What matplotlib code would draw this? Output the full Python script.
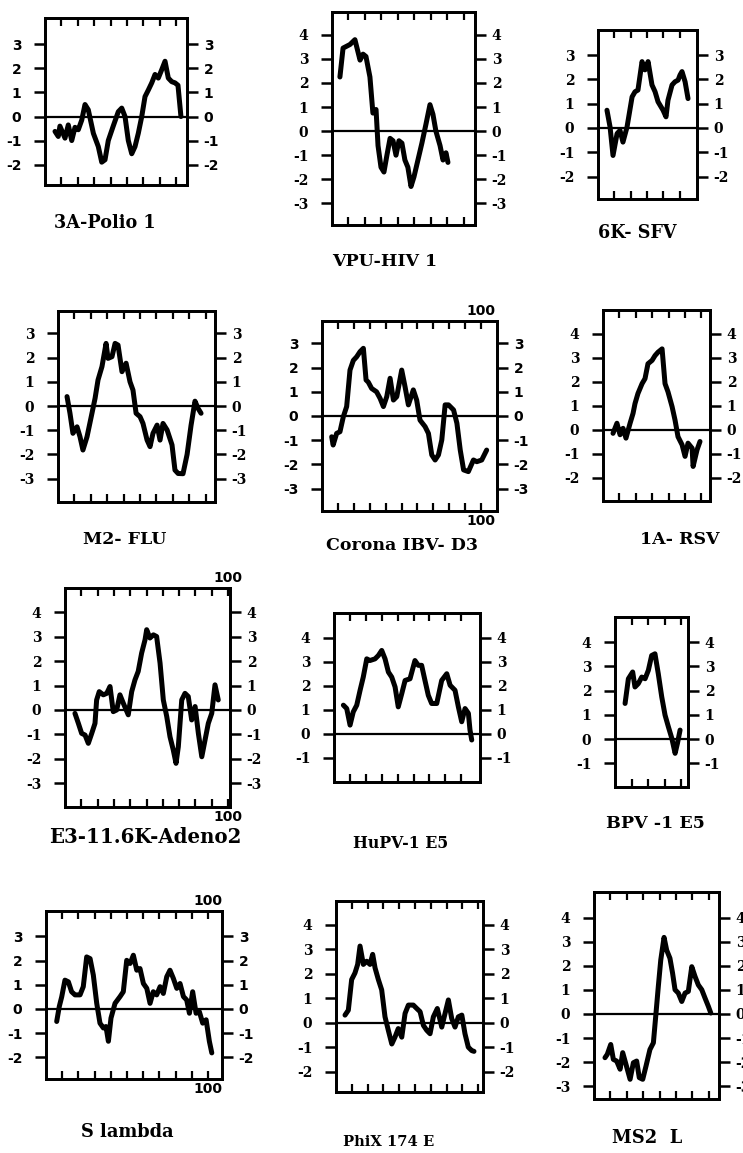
import matplotlib.pyplot as plt

plt.rcParams['axes.unicode_minus'] = False

W, H = 743, 1153

names = ['3A-Polio 1', 'VPU-HIV 1', '6K- SFV', 'M2- FLU', 'Corona IBV- D3', '1A- RSV',
         'E3-11.6K-Adeno2', 'HuPV-1 E5', 'BPV -1 E5', 'S lambda', 'PhiX 174 E', 'MS2  L']

# residue position / hydropathy value
polio_r = [6.1, 8.1, 9.1, 12.2, 14.2, 16.3, 18.3, 20.3, 22.4, 24.4, 26.4, 29.5, 32.5, 34.6, 36.6,
           38.6, 41.6, 44.7, 46.8, 48.8, 50.8, 52.9, 54.9, 56.9, 59.0, 61.0, 63.0, 65.1, 67.1,
           69.1, 71.2, 73.2, 75.2, 77.3, 79.3, 81.1, 82.9]
polio_v = [-0.62, -0.83, -0.4, -0.9, -0.35, -1.0, -0.45, -0.55, -0.15, 0.5, 0.28, -0.7, -1.25,
           -1.9, -1.8, -1.0, -0.4, 0.2, 0.35, 0.0, -1.0, -1.55, -1.25, -0.7, 0.0, 0.83, 1.1, 1.4,
           1.75, 1.6, 1.95, 2.3, 1.6, 1.45, 1.4, 1.3, 0.0]

vpu_r = [4.8, 6.7, 10.9, 13.9, 17.0, 18.8, 20.6, 23.0, 24.8, 26.7, 27.9, 29.7, 31.5, 33.3, 35.2,
         37.0, 38.8, 40.6, 42.4, 44.2, 46.0, 47.9, 49.7, 52.1, 54.5, 57.0, 59.4, 61.2, 63.0,
         65.5, 67.3, 69.1, 70.3]
vpu_v = [2.25, 3.45, 3.6, 3.8, 2.95, 3.2, 3.1, 2.25, 0.75, 0.9, -0.6, -1.5, -1.7, -1.0, -0.3,
         -0.4, -1.0, -0.4, -0.5, -1.2, -1.5, -2.3, -1.9, -1.2, -0.5, 0.3, 1.1, 0.7, 0.0, -0.6,
         -1.2, -0.9, -1.3]

sfv_r = [5.5, 7.4, 9.2, 11.7, 13.5, 15.3, 17.8, 20.9, 22.7, 24.5, 27.0, 28.8, 30.7, 33.1, 35.0,
         36.8, 39.9, 41.7, 42.9, 45.4, 47.2, 49.1, 50.3, 51.5, 53.4, 55.2]
sfv_v = [0.73, 0.04, -1.13, -0.23, -0.1, -0.58, 0.04, 1.28, 1.49, 1.56, 2.73, 2.39, 2.73, 1.77,
         1.49, 1.08, 0.73, 0.46, 1.14, 1.77, 1.9, 1.97, 2.18, 2.32, 1.9, 1.21]

flu_r = [5.5, 7.3, 9.1, 11.6, 13.4, 15.2, 17.7, 20.7, 22.6, 24.4, 26.8, 29.3, 30.5, 32.9, 34.8,
         36.6, 39.0, 41.5, 43.9, 45.7, 47.6, 50.0, 51.8, 54.3, 56.1, 57.9, 60.4, 62.2, 64.0,
         66.5, 69.5, 71.3, 73.2, 76.2, 78.7, 81.1, 83.5, 85.4, 87.2]
flu_v = [0.39, -0.3, -1.13, -0.86, -1.27, -1.82, -1.27, -0.3, 0.32, 1.08, 1.63, 2.59, 1.97, 2.04,
         2.59, 2.52, 1.42, 1.77, 1.0, 0.66, -0.3, -0.44, -0.72, -1.41, -1.68, -1.13, -0.79,
         -1.41, -0.72, -0.99, -1.61, -2.65, -2.79, -2.8, -2.0, -0.8, 0.2, -0.1, -0.3]

ibv_r = [6.1, 7.0, 9.2, 11.3, 13.4, 15.5, 17.6, 19.7, 21.8, 23.9, 26.0, 27.7, 29.1, 31.2, 34.3,
         36.5, 38.6, 40.7, 42.8, 44.9, 47.0, 50.1, 52.2, 54.3, 57.4, 59.5, 61.6, 64.8, 66.9,
         69.0, 71.1, 73.2, 75.3, 77.4, 79.5, 82.7, 84.8, 86.9, 89.0, 92.0, 95.2, 97.3, 100.4,
         103.5]
ibv_v = [-0.86, -1.2, -0.72, -0.65, -0.03, 0.39, 1.9, 2.3, 2.45, 2.66, 2.8, 1.49, 1.4, 1.14, 1.0,
         0.73, 0.39, 0.8, 1.56, 0.66, 0.8, 1.9, 1.21, 0.46, 1.08, 0.66, -0.17, -0.44, -0.72,
         -1.61, -1.82, -1.61, -0.99, 0.46, 0.46, 0.25, -0.3, -1.41, -2.23, -2.3, -1.82, -1.89,
         -1.82, -1.41]

rsv_r = [6.1, 8.5, 10.4, 12.2, 14.0, 16.5, 18.3, 19.5, 21.3, 23.8, 25.6, 27.4, 29.9, 31.7, 33.5,
         36.0, 37.8, 39.6, 42.1, 43.9, 45.7, 48.2, 50.0, 51.8, 54.3, 54.9, 57.3, 59.1]
rsv_v = [-0.14, 0.28, -0.2, 0.07, -0.34, 0.28, 0.69, 1.1, 1.52, 1.93, 2.14, 2.76, 2.9, 3.1, 3.24,
         3.38, 1.93, 1.59, 0.97, 0.41, -0.28, -0.62, -1.1, -0.55, -0.76, -1.52, -0.83, -0.48]

adeno_r = [6.1, 8.2, 10.2, 12.3, 14.3, 16.4, 18.4, 19.4, 21.0, 23.5, 25.6, 27.6, 29.6, 31.7,
           33.7, 35.8, 38.8, 40.9, 42.9, 44.9, 47.0, 49.1, 50.1, 52.1, 54.2, 56.2, 58.3, 60.3,
           62.4, 64.4, 66.4, 68.1, 69.5, 71.6, 73.6, 75.6, 77.7, 79.8, 81.8, 83.9, 85.9, 87.9,
           90.0, 92.0, 94.0]
adeno_v = [-0.14, -0.55, -0.96, -1.03, -1.37, -0.96, -0.55, 0.41, 0.75, 0.62, 0.68, 0.96, -0.07,
           0.0, 0.62, 0.27, -0.2, 0.75, 1.23, 1.58, 2.33, 2.88, 3.29, 2.95, 3.08, 3.01, 1.92,
           0.41, -0.27, -1.1, -1.64, -2.19, -1.51, 0.41, 0.68, 0.55, -0.41, 0.14, -0.96, -1.92,
           -1.23, -0.55, -0.14, 1.03, 0.41]

hupv_r = [5.9, 8.0, 10.1, 12.1, 14.3, 16.4, 18.4, 20.6, 22.6, 25.8, 27.9, 30.0, 32.1, 34.2, 36.3,
          38.4, 40.4, 42.6, 44.7, 47.8, 50.9, 53.0, 55.1, 57.2, 59.3, 61.4, 64.6, 67.7, 70.9,
          73.0, 76.1, 78.2, 80.3, 82.4, 84.5, 85.5, 86.6]
hupv_v = [1.2, 1.06, 0.37, 0.92, 1.2, 1.82, 2.37, 3.13, 3.06, 3.13, 3.27, 3.48, 3.13, 2.58, 2.37,
          1.96, 1.13, 1.68, 2.23, 2.3, 3.06, 2.86, 2.86, 2.23, 1.61, 1.27, 1.27, 2.23, 2.51, 2.03,
          1.82, 1.13, 0.51, 1.06, 0.86, 0.17, -0.25]

bpv_r = [6.1, 8.1, 10.7, 12.1, 14.1, 16.2, 18.2, 20.2, 22.2, 24.2, 26.2, 28.3, 30.3, 32.3, 34.4,
         36.4, 37.8, 39.4]
bpv_v = [1.47, 2.49, 2.77, 2.15, 2.29, 2.56, 2.49, 2.84, 3.45, 3.52, 2.7, 1.74, 0.99, 0.51, 0.03,
         -0.59, -0.18, 0.37]

slam_r = [6.6, 8.2, 9.7, 11.7, 13.8, 15.8, 17.9, 21.0, 23.0, 25.1, 27.2, 29.2, 31.3, 33.3, 35.4,
          37.0, 38.5, 40.1, 42.6, 45.7, 47.7, 49.8, 51.9, 53.9, 56.0, 58.0, 60.1, 62.2, 64.2,
          66.2, 68.3, 70.4, 72.4, 74.5, 76.5, 78.6, 80.7, 82.7, 84.8, 86.8, 88.5, 90.5, 92.6,
          94.6, 96.7, 98.8, 100.8, 102.3]
slam_v = [-0.52, 0.1, 0.5, 1.19, 1.12, 0.71, 0.58, 0.58, 0.92, 2.15, 2.08, 1.4, 0.23, -0.59,
          -0.79, -0.73, -1.34, -0.38, 0.23, 0.51, 0.71, 2.01, 1.88, 2.22, 1.6, 1.67, 1.05, 0.85,
          0.23, 0.71, 0.58, 0.92, 0.64, 1.33, 1.6, 1.26, 0.85, 1.05, 0.51, 0.37, -0.18, 0.71,
          -0.18, -0.11, -0.59, -0.45, -1.34, -1.82]

phix_r = [5.7, 7.8, 9.9, 12.0, 13.7, 15.2, 17.3, 19.4, 21.5, 23.2, 24.7, 26.8, 28.9, 31.0, 33.1,
          35.3, 37.3, 39.4, 41.6, 43.7, 45.8, 48.9, 51.1, 53.2, 55.3, 57.4, 59.5, 61.6, 64.1,
          66.9, 69.0, 71.1, 73.2, 75.3, 77.4, 79.6, 81.6, 83.7, 85.9, 87.3]
phix_v = [0.32, 0.52, 1.77, 2.04, 2.39, 3.14, 2.39, 2.52, 2.39, 2.8, 2.25, 1.77, 1.35, 0.25, -0.3,
          -0.86, -0.58, -0.23, -0.58, 0.39, 0.73, 0.73, 0.59, 0.46, -0.1, -0.3, -0.44, 0.25, 0.59,
          -0.17, 0.39, 0.94, 0.18, -0.17, 0.25, 0.32, -0.44, -0.99, -1.13, -1.16]

ms2_r = [6.7, 8.1, 10.2, 11.8, 13.8, 15.9, 17.5, 19.5, 22.0, 24.0, 26.0, 27.6, 29.7, 31.7, 34.1,
         36.2, 37.8, 39.2, 40.7, 42.7, 44.3, 46.3, 47.9, 49.4, 51.4, 53.5, 55.5, 57.5, 59.6,
         61.6, 63.6, 65.7, 67.7, 69.7, 71.2]
ms2_v = [-1.82, -1.68, -1.27, -1.89, -1.96, -2.3, -1.61, -2.1, -2.72, -2.03, -1.96, -2.65, -2.72,
         -2.17, -1.48, -1.2, 0.04, 1.14, 2.25, 3.19, 2.66, 2.32, 1.7, 1.01, 0.87, 0.52, 0.87,
         0.94, 1.97, 1.56, 1.21, 1.01, 0.66, 0.32, 0.04]

# labelled hydropathy ticks of each panel (lowest, highest)
ytick_span = [(-2, 3), (-3, 4), (-2, 3), (-3, 3), (-3, 3), (-2, 4),
              (-3, 4), (-1, 4), (-1, 4), (-2, 3), (-2, 4), (-3, 4)]

series = [(polio_r, polio_v), (vpu_r, vpu_v), (sfv_r, sfv_v), (flu_r, flu_v), (ibv_r, ibv_v),
          (rsv_r, rsv_v), (adeno_r, adeno_v), (hupv_r, hupv_v), (bpv_r, bpv_v),
          (slam_r, slam_v), (phix_r, phix_v), (ms2_r, ms2_v)]

# panel boxes in pixels (left, top, right, bottom), axis ranges, title spots
boxes = [(45, 18, 187, 185), (332, 12, 475, 225), (598, 30, 697, 199),
         (58, 311, 215, 502), (322, 321, 497, 511), (603, 310, 710, 501),
         (65, 588, 230, 807), (334, 613, 480, 782), (615, 617, 688, 787),
         (46, 911, 222, 1079), (336, 901, 483, 1092), (594, 892, 719, 1099)]
xmaxs = [86.6, 86.7, 60.7, 95.7, 110, 65.2, 101.2, 91.8, 44.2, 108.6, 93, 76.2]
ylims = [(-2.85, 4.1), (-3.9, 4.95), (-2.92, 4.03), (-3.97, 3.93), (-3.93, 3.93), (-2.96, 5.0),
         (-3.98, 5.0), (-2.0, 5.04), (-1.98, 5.04), (-2.9, 4.05), (-2.82, 4.98), (-3.54, 5.08)]
mark100 = [False, False, False, False, True, False, True, False, False, True, False, False]
sans = [True, False, False, False, True, False, False, False, False, True, False, False]
title_xy = [(105, 223), (385, 262), (637, 233), (125, 540), (402, 545), (680, 540),
            (145, 837), (401, 843), (655, 823), (127, 1132), (389, 1142), (647, 1138)]
title_size = [12.7, 12.5, 12.7, 12.5, 12.5, 12.5, 14.2, 11.3, 12.6, 12.8, 10.6, 12.9]

fig = plt.figure(figsize=(W / 100, H / 100), dpi=100)

for i, (r, v) in enumerate(series):
    l, t, rt, b = boxes[i]
    ax = fig.add_axes([l / W, 1 - b / H, (rt - l) / W, (b - t) / H])
    ax.plot(r, v, color='black', lw=3.6, solid_joinstyle='round', solid_capstyle='round')
    ax.axhline(0, color='black', lw=1.6)
    ax.set_xlim(0, xmaxs[i])
    lo, hi = ylims[i]
    ax.set_ylim(lo, hi)
    yt = list(range(ytick_span[i][0], ytick_span[i][1] + 1))
    fam = 'DejaVu Sans' if sans[i] else 'DejaVu Serif'

    if mark100[i]:
        xt = list(range(10, 101, 10))
        ax.set_xticks(xt)
        ax.set_xticklabels(['' if x != 100 else '100' for x in xt],
                           fontsize=10, fontweight='bold', fontfamily='DejaVu Sans')
        ax.tick_params(axis='x', labeltop=True, labelbottom=True, pad=2)
    else:
        ax.set_xticks(list(range(10, int(xmaxs[i] - 3) + 1, 10)))
        ax.tick_params(axis='x', labelbottom=False)
    ax.tick_params(axis='x', direction='in', top=True, bottom=True, length=6, width=1.6)

    ax.set_yticks(yt)
    ax.set_yticklabels([str(y) for y in yt], fontsize=10, fontweight='bold', fontfamily=fam)
    ax.tick_params(axis='y', direction='out', length=8, width=1.8, pad=9)

    twin = ax.twinx()
    twin.set_ylim(lo, hi)
    twin.set_yticks(yt)
    twin.set_yticklabels([str(y) for y in yt], fontsize=10, fontweight='bold', fontfamily=fam)
    twin.tick_params(axis='y', direction='out', length=8, width=1.8, pad=4)

    for a in (ax, twin):
        for s in a.spines.values():
            s.set_linewidth(2)

    tx, ty = title_xy[i]
    fig.text(tx / W, 1 - ty / H, names[i], ha='center', va='center',
             fontsize=title_size[i], fontweight='bold', fontfamily='DejaVu Serif')

fig.savefig('out.png', dpi=100)
